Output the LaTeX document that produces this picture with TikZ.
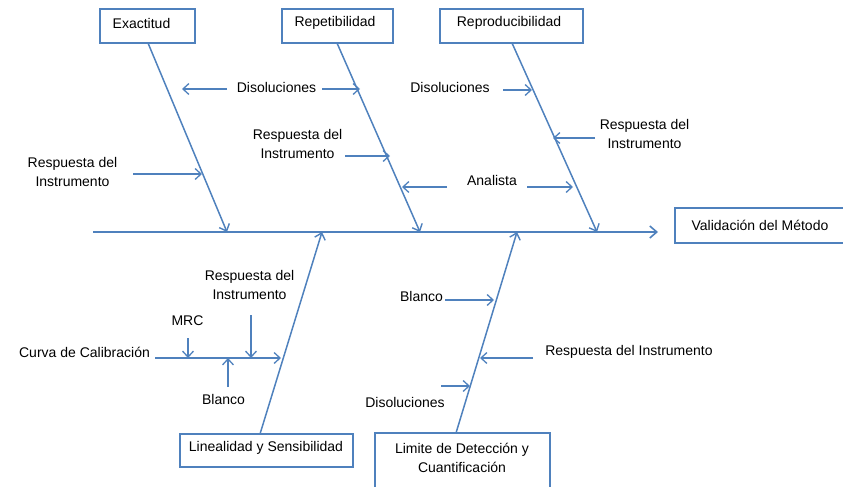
\documentclass[tikz,border=0pt]{standalone}
\usepackage{fontspec}
\setmainfont{Liberation Sans}
\usetikzlibrary{arrows.meta,calc}
\definecolor{bone}{HTML}{4F81BD}
\begin{document}
\begin{tikzpicture}[x=1pt,y=-1pt,
  box/.style={draw=bone,line width=1.8pt,rectangle,inner sep=0pt},
  lbl/.style={font=\fontsize{14}{19}\selectfont,inner sep=0pt,align=center,text=black},
  bonel/.style={draw=bone,line width=1.5pt,-{Straight Barb[length=6pt,width=11pt,line width=1.4pt]}},
  spine/.style={draw=bone,line width=1.8pt,-{Straight Barb[length=7pt,width=12pt,line width=1.6pt]}},
  twig/.style={draw=bone,line width=1.4pt,-{Straight Barb[length=6pt,width=11pt,line width=1.3pt]}}]
\useasboundingbox (0,0) rectangle (843,487);
\clip (0,0) rectangle (843,487);

% category boxes
\node[box,minimum width=95pt,minimum height=34pt] (exa) at (147.5,26) {};
\node[lbl] (exaT) at (141.5,23) {Exactitud};
\node[box,minimum width=111pt,minimum height=34pt] (rep) at (337.5,26) {};
\node[lbl] (repT) at (335,23) {Repetibilidad};
\node[box,minimum width=143pt,minimum height=34pt] (rpr) at (511.5,26) {};
\node[lbl] (rprT) at (509,23) {Reproducibilidad};
\node[box,minimum width=180pt,minimum height=35pt] (val) at (765,225.5) {};
\node[lbl] (valT) at (760,225) {Validación del Método};
\node[box,minimum width=173pt,minimum height=33pt] (lin) at (266.5,450.5) {};
\node[lbl] (linT) at (266,448) {Linealidad y Sensibilidad};
\node[box,minimum width=175pt,minimum height=62pt] (lim) at (462.5,464) {};
\node[lbl] (limT) at (462,458) {Limite de Detección y\\Cuantificación};

% spine and main bones
\coordinate (sp0) at (93,232);
\coordinate (sp1) at (658,232);
\coordinate (jExa) at (227,232);
\coordinate (jRep) at (420,232);
\coordinate (jRpr) at (597,232);
\coordinate (jLin) at (322,232);
\coordinate (jLim) at (517,232);
\coordinate (fExa) at (148,43);
\coordinate (fRep) at (337,43);
\coordinate (fRpr) at (512,43);
\coordinate (fLin) at (260,434);
\coordinate (fLim) at (456,433);
\draw[spine] (sp0) -- (sp1);
\draw[bonel] (fExa) -- (jExa);
\draw[bonel] (fRep) -- (jRep);
\draw[bonel] (fRpr) -- (jRpr);
\draw[bonel] (fLin) -- (jLin);
\draw[bonel] (fLim) -- (jLim);

% causes, upper half
\node[lbl] (dis1) at (276.5,87) {Disoluciones};
\coordinate (dis1a) at (227,89); \coordinate (dis1b) at (182,89);
\coordinate (dis1c) at (322,89); \coordinate (dis1d) at (360,89);
\draw[twig] (dis1a) -- (dis1b);
\draw[twig] (dis1c) -- (dis1d);

\node[lbl] (ri1) at (72.5,172) {Respuesta del\\Instrumento};
\coordinate (ri1a) at (133,174); \coordinate (ri1b) at (202,174);
\draw[twig] (ri1a) -- (ri1b);

\node[lbl] (ri2) at (297.5,144) {Respuesta del\\Instrumento};
\coordinate (ri2a) at (345,156); \coordinate (ri2b) at (390,156);
\draw[twig] (ri2a) -- (ri2b);

\node[lbl] (ana) at (492,180) {Analista};
\coordinate (anaa) at (447,187); \coordinate (anab) at (402,187);
\coordinate (anac) at (527,187); \coordinate (anad) at (573,187);
\draw[twig] (anaa) -- (anab);
\draw[twig] (anac) -- (anad);

\node[lbl] (dis2) at (450,87) {Disoluciones};
\coordinate (dis2a) at (503,90); \coordinate (dis2b) at (532,90);
\draw[twig] (dis2a) -- (dis2b);

\node[lbl] (ri3) at (644.5,134) {Respuesta del\\Instrumento};
\coordinate (ri3a) at (595,138); \coordinate (ri3b) at (553,138);
\draw[twig] (ri3a) -- (ri3b);

% causes, lower half
\node[lbl] (cur) at (84.5,352) {Curva de Calibración};
\coordinate (cura) at (155,358); \coordinate (curb) at (281,358);
\draw[twig] (cura) -- (curb);

\node[lbl] (mrc) at (187.5,321) {MRC};
\coordinate (mrca) at (188,338); \coordinate (mrcb) at (188,358);
\draw[twig] (mrca) -- (mrcb);

\node[lbl] (ri4) at (249.5,285) {Respuesta del\\Instrumento};
\coordinate (ri4a) at (251,315); \coordinate (ri4b) at (251,358);
\draw[twig] (ri4a) -- (ri4b);

\node[lbl] (bl1) at (223.5,399) {Blanco};
\coordinate (bl1a) at (228,387); \coordinate (bl1b) at (228,358);
\draw[twig] (bl1a) -- (bl1b);

\node[lbl] (bl2) at (421.5,296) {Blanco};
\coordinate (bl2a) at (445,300); \coordinate (bl2b) at (494,300);
\draw[twig] (bl2a) -- (bl2b);

\node[lbl] (ri5) at (629,352) {Respuesta del Instrumento};
\coordinate (ri5a) at (533,358); \coordinate (ri5b) at (480,358);
\draw[twig] (ri5a) -- (ri5b);

\node[lbl] (dis3) at (405,402) {Disoluciones};
\coordinate (dis3a) at (441,386); \coordinate (dis3b) at (470,386);
\draw[twig] (dis3a) -- (dis3b);
\end{tikzpicture}
\end{document}
